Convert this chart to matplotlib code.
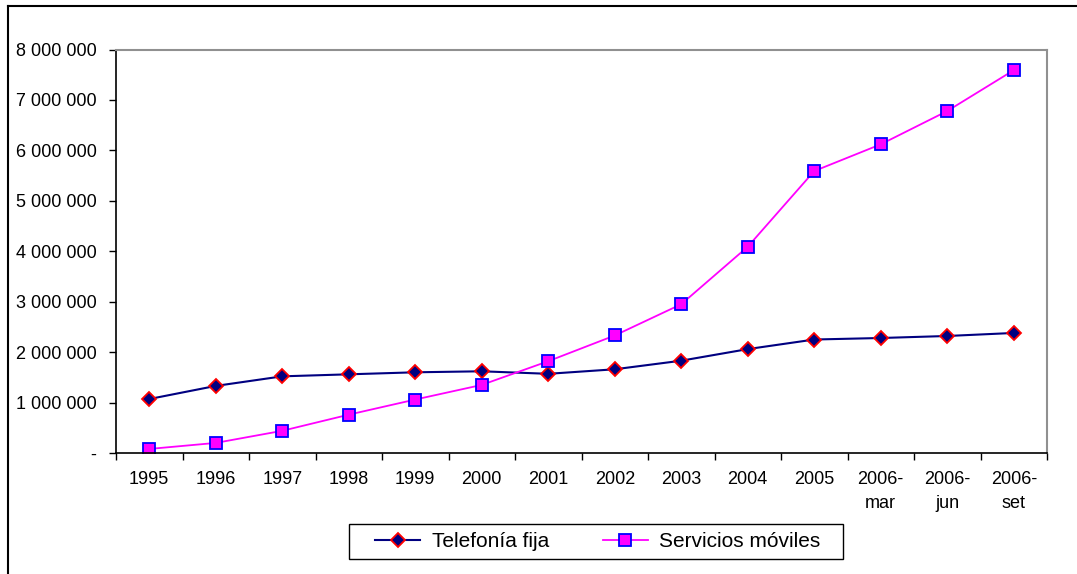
import numpy as np
import matplotlib.pyplot as plt
from matplotlib.ticker import FuncFormatter
from matplotlib.lines import Line2D
from matplotlib.patches import Rectangle

# categories and values
categories = ["1995", "1996", "1997", "1998", "1999", "2000", "2001", "2002",
              "2003", "2004", "2005", "2006-\nmar", "2006-\njun", "2006-\nset"]
fija = [1070000, 1330000, 1520000, 1560000, 1600000, 1620000, 1570000, 1660000,
        1830000, 2060000, 2250000, 2280000, 2320000, 2380000]
moviles = [80000, 200000, 440000, 760000, 1060000, 1350000, 1820000, 2330000,
           2950000, 4090000, 5590000, 6120000, 6780000, 7590000]

plt.rcParams['font.family'] = ['Liberation Sans', 'DejaVu Sans']
plt.rcParams['font.size'] = 13

W, H = 1077, 574
fig = plt.figure(figsize=(W / 100, H / 100), dpi=100)
ax = fig.add_axes([116 / W, 1 - 453 / H, 931 / W, 403.5 / H])

x = np.arange(len(categories))
ax.plot(x, fija, color='#000080', lw=1.5, marker='D', ms=7.5,
        mfc='#000080', mec='#ff0000', mew=1.3, label='Telefonía fija')
ax.plot(x, moviles, color='#ff00ff', lw=1.3, marker='s', ms=8.5,
        mfc='#ff00ff', mec='#0000ff', mew=1.3, label='Servicios móviles')

ax.set_xlim(-0.5, len(categories) - 0.5)
ax.set_ylim(0, 8000000)

ax.set_yticks(np.arange(0, 8000001, 1000000))
ax.yaxis.set_major_formatter(FuncFormatter(
    lambda v, p: '-' if v == 0 else f"{int(v):,}".replace(',', ' ')))

# category labels centred, ticks on the boundaries
ax.set_xticks(np.arange(-0.5, len(categories)))
ax.set_xticklabels([''] * (len(categories) + 1))
ax.set_xticks(x, minor=True)
ax.set_xticklabels(categories, minor=True, linespacing=1.55, va='top')
ax.tick_params(axis='x', which='minor', length=0, pad=13)
ax.tick_params(axis='x', which='major', length=5, direction='out', width=1)
ax.tick_params(axis='y', length=5, direction='out', width=1, pad=9)

for side in ['left', 'bottom']:
    ax.spines[side].set_color('black')
    ax.spines[side].set_linewidth(1.2)
for side in ['top', 'right']:
    ax.spines[side].set_color('#909090')
    ax.spines[side].set_linewidth(1.5)

# legend entries, with the box drawn separately (Excel-style padding)
fig.legend(loc='center', bbox_to_anchor=(598 / W, 1 - 541.5 / H),
           ncol=2, frameon=False, handlelength=2.15, columnspacing=2.6,
           handletextpad=0.55, borderpad=0.2, fontsize=15)
fig.add_artist(Rectangle((349 / W, 1 - 559 / H), 494 / W, 35 / H,
                         transform=fig.transFigure, fill=False,
                         edgecolor='black', lw=1.0))

# outer frame (cut off at right and bottom)
fig.add_artist(Line2D([8 / W, 8 / W], [0, 1 - 6 / H], color='black',
                      lw=1.5, transform=fig.transFigure))
fig.add_artist(Line2D([8 / W, 1], [1 - 6 / H, 1 - 6 / H], color='black',
                      lw=1.5, transform=fig.transFigure))

fig.savefig('out.png', dpi=100)
